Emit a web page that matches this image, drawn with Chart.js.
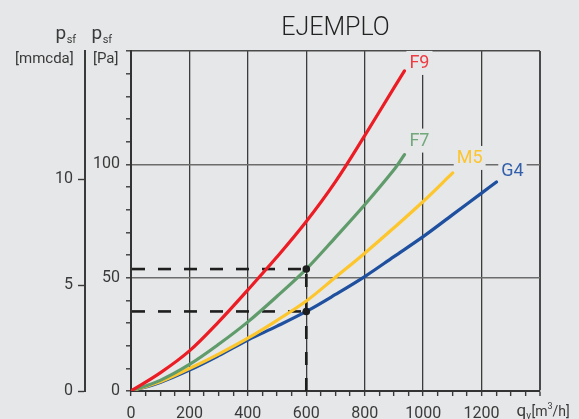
<!DOCTYPE html>
<html lang="es">
<head>
<meta charset="utf-8">
<title>EJEMPLO</title>
<script src="https://cdn.jsdelivr.net/npm/chart.js@4/dist/chart.umd.min.js"></script>
<style>
  html, body { margin: 0; padding: 0; background: #e6e7e8; }
  canvas { display: block; }
</style>
</head>
<body>
<canvas id="grafico" width="579" height="419"></canvas>
<script>
// Caudal q_v [m3/h] y pérdida de carga p_sf [Pa] para cada clase de filtro
const caudalF9 = [0, 100, 200, 300, 400, 500, 600, 700, 800, 900, 936];
const presionF9 = [0, 8, 17.7, 30.5, 44.6, 59.2, 74.8, 92.4, 112.7, 133.7, 141.2];

const caudalF7 = [0, 100, 200, 300, 400, 500, 600, 700, 800, 900, 936];
const presionF7 = [0, 4.7, 11.7, 20.6, 30.5, 41.8, 53.8, 67.8, 82.2, 97.6, 104.3];

const caudalM5 = [0, 100, 200, 300, 400, 500, 600, 700, 800, 900, 1000, 1101];
const presionM5 = [0, 4.1, 9.9, 16.3, 23.3, 31.2, 39.7, 50.2, 60.8, 72, 83.6, 96.2];

const caudalG4 = [0, 100, 200, 300, 400, 500, 600, 700, 800, 900, 1000, 1100, 1200, 1251];
const presionG4 = [0, 3.8, 9.2, 15.6, 22.5, 28.6, 35.1, 42.6, 50.5, 59.3, 68.1, 77.7, 87.3, 92.2];

// Lecturas del ejemplo: caudal de 600 m3/h sobre F7 y G4
const lecturaCaudal = [600, 600];
const lecturaPresion = [53.8, 35.1];

const clases = ['F9', 'F7', 'M5', 'G4'];
const coloresCurva = ['#ec1c24', '#5f9b6b', '#fdc62c', '#1f50a0'];
const coloresEtiqueta = ['#ef3b44', '#71a87c', '#fcc52f', '#3360ab'];

// Ejes
const ticksPa = [0, 50, 100];          // etiquetas del eje p_sf [Pa]
const ticksMmcda = [0, 5, 10];         // etiquetas del eje p_sf [mmcda]
const ticksCaudal = [0, 200, 400, 600, 800, 1000, 1200];
const PA_MAX = 150;
const MMCDA_MAX = 16.07;
const Q_MAX = 1400;

const FONDO = '#e6e7e8';
const TEXTO = '#3a3a3a';

function puntos(xs, ys) { return xs.map((x, i) => ({ x: x, y: ys[i] })); }

const series = [
  puntos(caudalF9, presionF9),
  puntos(caudalF7, presionF7),
  puntos(caudalM5, presionM5),
  puntos(caudalG4, presionG4)
];

const datasets = series.map((d, i) => ({
  label: clases[i],
  data: d,
  borderColor: coloresCurva[i],
  backgroundColor: coloresCurva[i],
  borderWidth: 3.2,
  borderCapStyle: 'round',
  borderJoinStyle: 'round',
  pointRadius: 0,
  tension: 0.35,
  yAxisID: 'y',
  order: 2
}));

datasets.push({
  label: 'lectura',
  data: puntos(lecturaCaudal, lecturaPresion),
  showLine: false,
  pointRadius: 3.8,
  pointBackgroundColor: '#1c1c1c',
  pointBorderColor: '#1c1c1c',
  pointBorderWidth: 0,
  yAxisID: 'y',
  order: 0
});

// Fondo del lienzo
const fondo = {
  id: 'fondo',
  beforeDraw(chart) {
    const c = chart.ctx;
    c.save();
    c.fillStyle = FONDO;
    c.fillRect(0, 0, chart.width, chart.height);
    c.restore();
  }
};

// Líneas discontinuas de lectura hasta los ejes
const lecturas = {
  id: 'lecturas',
  beforeDatasetsDraw(chart) {
    const c = chart.ctx, xs = chart.scales.x, ys = chart.scales.y;
    const area = chart.chartArea;
    c.save();
    c.strokeStyle = '#1e1e1e';
    c.lineWidth = 2.6;
    c.setLineDash([13, 13]);
    lecturaPresion.forEach((p, i) => {
      const px = xs.getPixelForValue(lecturaCaudal[i]);
      const py = ys.getPixelForValue(p);
      c.beginPath();
      c.moveTo(area.left + 1, py);
      c.lineTo(px, py);
      c.stroke();
    });
    const px = xs.getPixelForValue(lecturaCaudal[0]);
    const top = ys.getPixelForValue(Math.max(...lecturaPresion));
    c.beginPath();
    c.moveTo(px, area.bottom);
    c.lineTo(px, top);
    c.stroke();
    c.restore();
  }
};

// Nombre de cada clase junto al final de su curva
const etiquetas = {
  id: 'etiquetas',
  afterDatasetsDraw(chart, args, opts) {
    const c = chart.ctx;
    c.save();
    c.font = '400 18px Roboto';
    c.textAlign = 'center';
    c.textBaseline = 'middle';
    clases.forEach((nombre, i) => {
      const meta = chart.getDatasetMeta(i);
      const fin = meta.data[meta.data.length - 1];
      const off = opts.desplazamientos[i];
      const x = fin.x + off[0], y = fin.y + off[1];
      const w = c.measureText(nombre).width;
      c.fillStyle = FONDO;
      c.fillRect(x - w / 2 - 3, y - 12, w + 6, 24);
      c.fillStyle = coloresEtiqueta[i];
      c.fillText(nombre, x, y + 1);
    });
    c.restore();
  }
};

// Título y rótulos de los ejes
const rotulos = {
  id: 'rotulos',
  afterDraw(chart) {
    const c = chart.ctx, area = chart.chartArea;
    c.save();
    c.fillStyle = '#222';
    c.font = '300 25px Roboto';
    c.textAlign = 'center';
    c.textBaseline = 'alphabetic';
    c.fillText('EJEMPLO', (area.left + area.right) / 2, 35);

    c.fillStyle = TEXTO;
    c.textAlign = 'left';
    const psf = (x) => {
      c.font = '400 19px Roboto';
      c.fillText('p', x, 38.5);
      const w = c.measureText('p').width;
      c.font = '400 11px Roboto';
      c.fillText('sf', x + w + 0.5, 42.5);
    };
    psf(55.5);
    psf(91.5);
    c.font = '400 15px Roboto';
    c.fillText('[mmcda]', 15, 63);
    c.fillText('[Pa]', 93, 63);

    // q_v [m3/h]
    let x = 516.5;
    const base = 418;
    c.font = '400 17px Roboto';
    c.fillText('q', x, base - 2);
    x += c.measureText('q').width;
    c.font = '400 10px Roboto';
    c.fillText('v', x, base + 1);
    x += c.measureText('v').width + 0.5;
    c.font = '400 14px Roboto';
    c.fillText('[m', x, base - 2);
    x += c.measureText('[m').width;
    c.font = '400 9px Roboto';
    c.fillText('3', x, base - 9);
    x += c.measureText('3').width;
    c.font = '400 14px Roboto';
    c.fillText('/h]', x, base - 2);
    c.restore();
  }
};

const fuenteTicks = { family: 'Roboto', size: 16, weight: '400' };

new Chart(document.getElementById('grafico'), {
  type: 'line',
  data: { datasets: datasets },
  plugins: [fondo, lecturas, etiquetas, rotulos],
  options: {
    responsive: false,
    animation: false,
    events: [],
    layout: { padding: { left: 0, right: 39, top: 51, bottom: 0 } },
    plugins: {
      legend: { display: false },
      title: { display: false },
      tooltip: { enabled: false },
      etiquetas: {
        desplazamientos: [[15, -8], [15, -14], [17, -15], [16, -12]]
      }
    },
    scales: {
      x: {
        type: 'linear',
        position: 'bottom',
        min: 0,
        max: Q_MAX,
        afterFit(s) { s.height = 28; },
        ticks: {
          stepSize: 50,
          autoSkip: false,
          maxRotation: 0,
          padding: 8,
          color: TEXTO,
          font: fuenteTicks,
          callback: (v) => ticksCaudal.includes(v) ? String(v) : ''
        },
        grid: {
          color: (ctx) => {
            const v = ctx.tick ? ctx.tick.value : null;
            if (v === Q_MAX) return '#4a4a4a';
            if (v && v % 200 === 0) return '#3c3c3c';
            return 'rgba(0,0,0,0)';
          },
          lineWidth: (ctx) => (ctx.tick && ctx.tick.value === Q_MAX) ? 2 : 1.3,
          tickColor: '#3a3a3a',
          tickLength: 5,
          tickWidth: 1.4
        },
        border: { display: true, color: '#333', width: 2 }
      },
      y: {
        type: 'linear',
        position: 'left',
        weight: 0,
        min: 0,
        max: PA_MAX,
        afterFit(s) { s.width = 46; },
        ticks: {
          stepSize: 10,
          autoSkip: false,
          padding: 6,
          color: TEXTO,
          font: fuenteTicks,
          callback: (v) => ticksPa.includes(v) ? String(v) : ''
        },
        grid: {
          color: (ctx) => {
            const v = ctx.tick ? ctx.tick.value : null;
            if (v === PA_MAX) return '#4a4a4a';
            if (v && v % 50 === 0) return '#6c6c6c';
            return 'rgba(0,0,0,0)';
          },
          lineWidth: 1.6,
          tickColor: '#3a3a3a',
          tickLength: 5,
          tickWidth: 1.4
        },
        border: { display: true, color: '#333', width: 2 }
      },
      mm: {
        type: 'linear',
        position: 'left',
        weight: 1,
        min: 0,
        max: MMCDA_MAX,
        afterFit(s) { s.width = 85; },
        afterBuildTicks(s) { s.ticks = ticksMmcda.map(v => ({ value: v })); },
        ticks: {
          padding: 5,
          color: TEXTO,
          font: fuenteTicks
        },
        grid: {
          drawOnChartArea: false,
          tickColor: '#3a3a3a',
          tickLength: 7,
          tickWidth: 1.4
        },
        border: { display: true, color: '#3a3a3a', width: 2 }
      }
    }
  }
});
</script>
</body>
</html>
